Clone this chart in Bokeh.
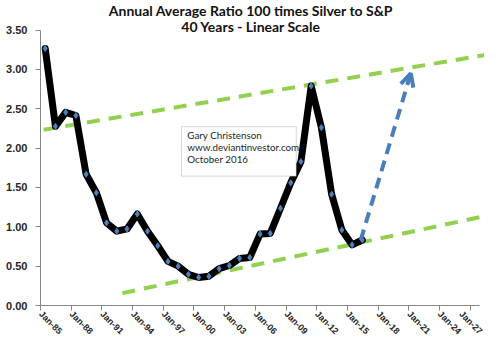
import math
from bokeh.plotting import figure
from bokeh.models import (FixedTicker, NumeralTickFormatter, Range1d, Label,
                          Arrow, OpenHead, BoxAnnotation, ColumnDataSource)
from bokeh.embed import file_html
from bokeh.resources import INLINE

# ---- data ----
years = list(range(1985, 2017))
ratio = [3.265, 2.276, 2.454, 2.414, 1.667, 1.433, 1.050, 0.944, 0.973, 1.162,
         0.944, 0.759, 0.560, 0.500, 0.396, 0.356, 0.372, 0.468, 0.508, 0.598,
         0.610, 0.908, 0.916, 1.235, 1.558, 1.828, 2.789, 2.260, 1.413, 0.960,
         0.771, 0.832]
x_tick_years = list(range(1985, 2028, 3))
x_tick_labels = ["Jan-85", "Jan-88", "Jan-91", "Jan-94", "Jan-97", "Jan-00",
                 "Jan-03", "Jan-06", "Jan-09", "Jan-12", "Jan-15", "Jan-18",
                 "Jan-21", "Jan-24", "Jan-27"]
y_ticks = [0.0, 0.5, 1.0, 1.5, 2.0, 2.5, 3.0, 3.5]

upper_trend_x = [1985.3, 2028.8]
upper_trend_y = [2.232, 3.19]
lower_trend_x = [1993.0, 2029.15]
lower_trend_y = [0.157, 1.155]
projection_start = (2016.3, 0.83)
projection_end = (2021.2, 2.95)

title_lines = ["Annual Average Ratio 100 times Silver to S&P",
               "40 Years - Linear Scale"]
note_lines = ["Gary Christenson", "www.deviantinvestor.com", "October 2016"]

# ---- layout ----
W, H = 484, 344
LEFT, BOTTOM = 40, 39
PX_PER_YEAR = 10.23
frame_h = H - BOTTOM
top_val_px = 29.5                     # where 3.50 sits from the top
px_per_unit = (frame_h - top_val_px) / 3.5
x_end = 1985 + (W - LEFT) / PX_PER_YEAR
y_end = frame_h / px_per_unit


def val_at(py):
    return (frame_h - py) / px_per_unit


p = figure(width=W, height=H, output_backend="svg", toolbar_location=None,
           x_range=Range1d(1985, x_end), y_range=Range1d(0, y_end),
           min_border_left=LEFT, min_border_right=0, min_border_top=0,
           min_border_bottom=BOTTOM)
p.outline_line_color = None
p.xgrid.visible = False
p.ygrid.visible = False

axis_gray = "#868686"
p.xaxis.ticker = FixedTicker(ticks=x_tick_years)
p.xaxis.major_label_overrides = {y: l for y, l in zip(x_tick_years, x_tick_labels)}
p.xaxis.bounds = (1985, 2027.9)
p.xaxis.major_label_orientation = -math.pi / 4
p.xaxis.major_label_text_font = "Liberation Sans"
p.xaxis.major_label_text_font_style = "bold"
p.xaxis.major_label_text_font_size = "9px"
p.xaxis.major_label_text_color = "#262626"
p.xaxis.major_label_standoff = 2

p.yaxis.ticker = FixedTicker(ticks=y_ticks)
p.yaxis.formatter = NumeralTickFormatter(format="0.00")
p.yaxis.bounds = (0, 3.5)
p.yaxis.major_label_text_font = "Liberation Sans"
p.yaxis.major_label_text_font_style = "bold"
p.yaxis.major_label_text_font_size = "11px"
p.yaxis.major_label_text_color = "#262626"
p.yaxis.major_label_standoff = 8

for ax in (p.xaxis, p.yaxis):
    ax.axis_line_color = axis_gray
    ax.major_tick_line_color = axis_gray
    ax.major_tick_in = 0
    ax.major_tick_out = 5
    ax.minor_tick_line_color = None

# trend channel
green = "#92D050"
p.line(upper_trend_x, upper_trend_y, line_color=green, line_width=4,
       line_dash="13 9")
p.line(lower_trend_x, lower_trend_y, line_color=green, line_width=4,
       line_dash="13 9")

# data series
src = ColumnDataSource(data=dict(x=[y + 0.46 for y in years], r=ratio))
p.line("x", "r", source=src, line_color="black", line_width=7,
       line_join="round", line_cap="round")
p.scatter("x", "r", source=src, marker="diamond", size=6,
          fill_color="#4F81BD", line_color="#4F81BD")

# projection arrow
blue = "#4A7EBB"
p.add_layout(Arrow(x_start=projection_start[0], y_start=projection_start[1],
                   x_end=projection_end[0], y_end=projection_end[1],
                   line_color=blue, line_width=4, line_dash="11 7",
                   end=OpenHead(size=13, line_color=blue, line_width=4)))

# note box
p.add_layout(BoxAnnotation(left=1998.78, right=2010.0, top=2.272, bottom=1.643,
                           fill_color="white", fill_alpha=1.0,
                           line_color="#7F7F7F", line_width=1))
for i, t in enumerate(note_lines):
    p.add_layout(Label(x=1999.35, y=2.163 - i * 0.148, text=t,
                       text_font="Lato", text_font_size="9.8px",
                       text_color="#262626", text_baseline="middle",
                       text_align="left"))

# titles
title_px = [9.5, 26]
for t, py in zip(title_lines, title_px):
    p.add_layout(Label(x=2005.58, y=val_at(py), text=t,
                       text_font="Lato", text_font_style="bold",
                       text_font_size="14px", text_color="#111111",
                       text_align="center", text_baseline="middle"))

open("out.html", "w").write(file_html(p, INLINE))
